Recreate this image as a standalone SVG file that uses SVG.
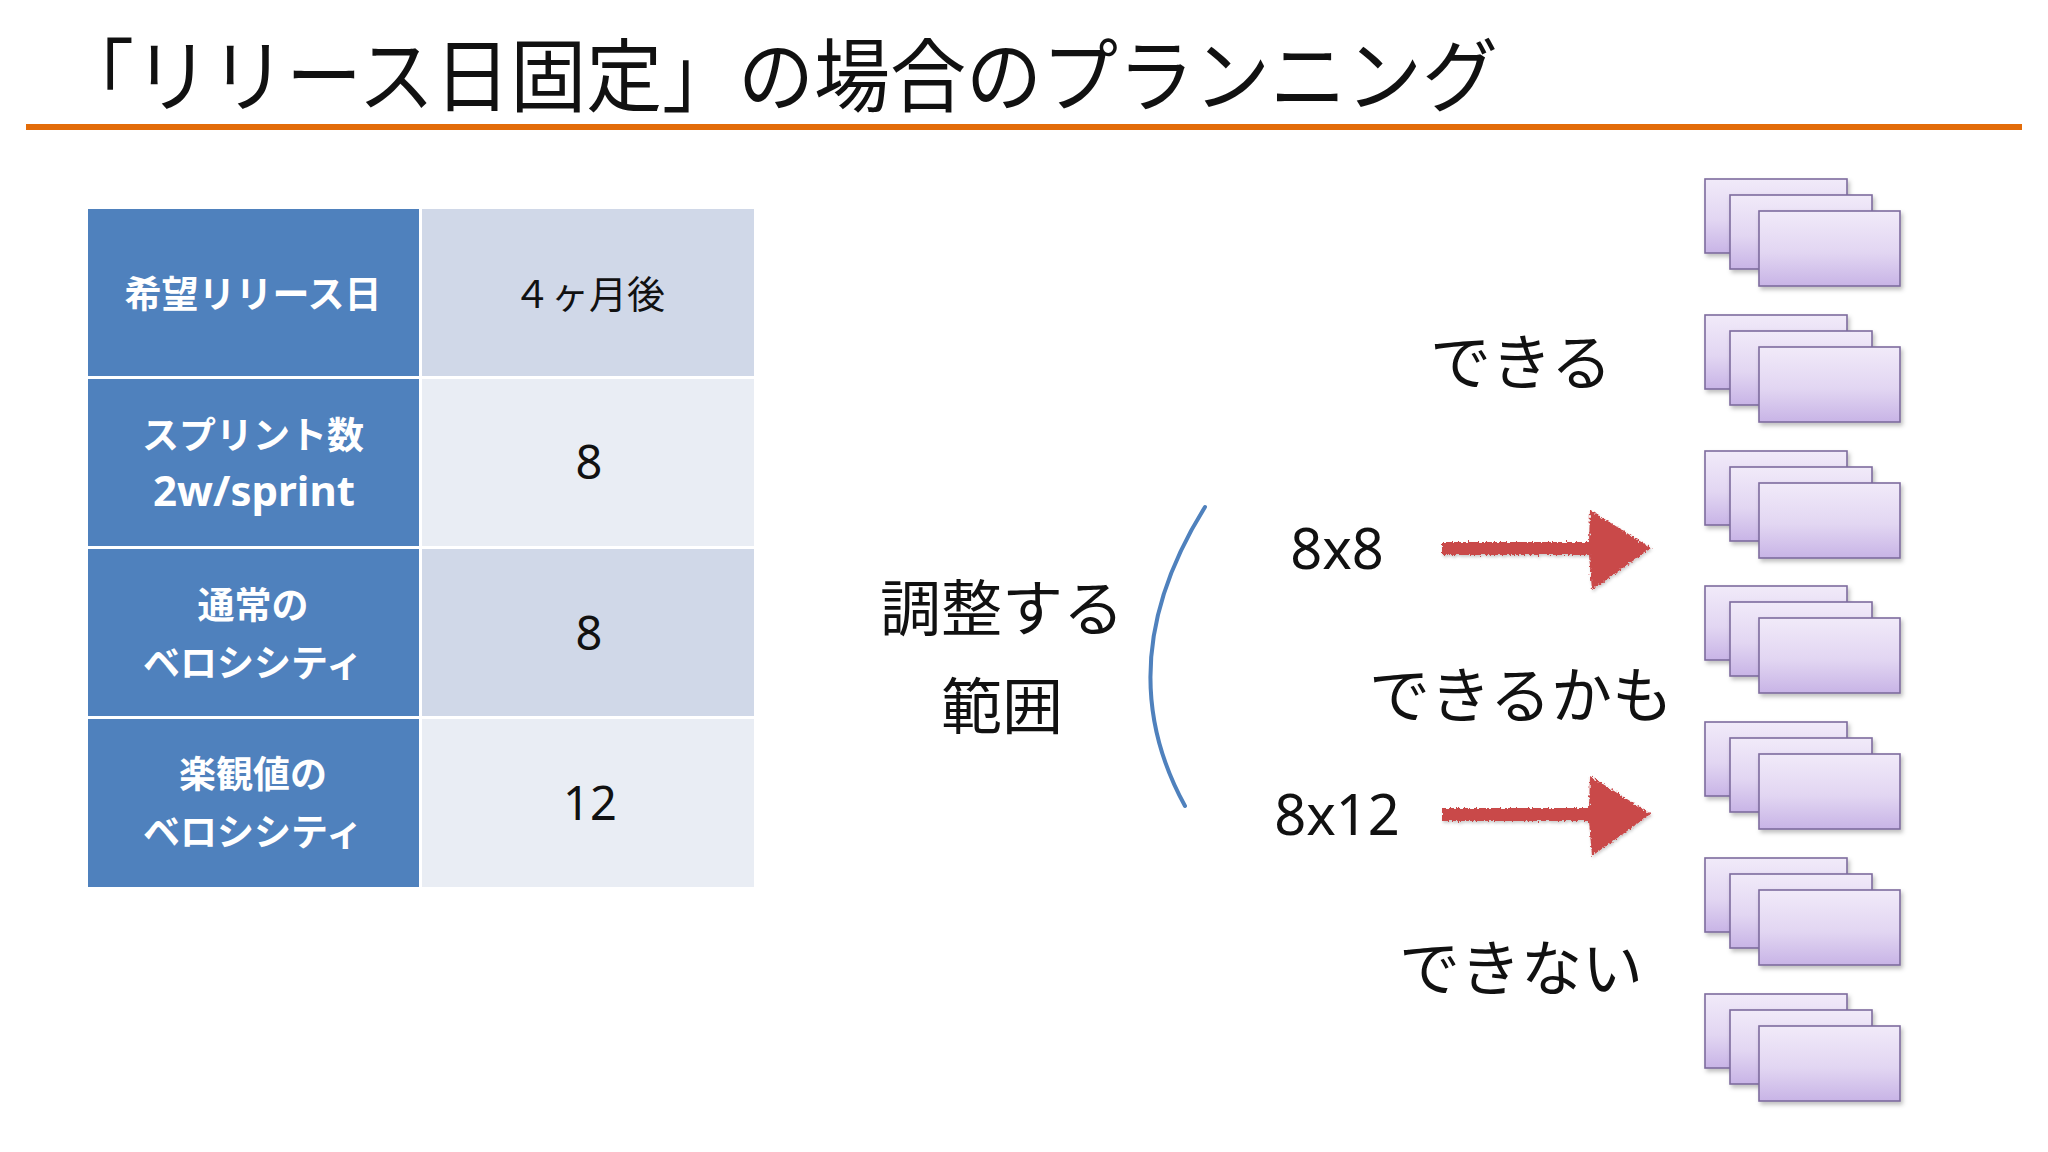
<svg xmlns="http://www.w3.org/2000/svg" width="2048" height="1152" viewBox="0 0 2048 1152">
<style>
  .jp { font-family: "Noto Sans CJK JP", "Noto Sans", sans-serif; }
  .hd { font-family: "Noto Sans CJK JP", "Noto Sans", sans-serif; font-weight: 700; font-size: 37px; fill: #FFFFFF; text-anchor: middle; }
  .hdl { font-family: "Noto Sans", "DejaVu Sans", sans-serif; font-weight: 700; font-size: 42px; fill: #FFFFFF; text-anchor: middle; }
  .val { font-family: "Noto Sans CJK JP", "Noto Sans", sans-serif; font-weight: 400; font-size: 38px; fill: #111111; text-anchor: middle; }
  .dig { font-family: "Noto Sans", "DejaVu Sans", sans-serif; font-weight: 400; font-size: 47px; fill: #111111; text-anchor: middle; }
  .big { font-family: "Noto Sans CJK JP", "Noto Sans", sans-serif; font-weight: 400; font-size: 61px; fill: #111111; text-anchor: middle; }
  .num { font-family: "Noto Sans", "DejaVu Sans", sans-serif; font-weight: 400; font-size: 56px; fill: #111111; text-anchor: middle; }
  .hcell { fill: #4F81BD; }
  .dark { fill: #D0D8E8; }
  .light { fill: #E9EDF4; }
  .card { fill: url(#cardGrad); stroke: #7E6C9E; stroke-width: 1.6; filter: url(#cardShadow); }
  .arrow { fill: #C9484A; filter: url(#rough); }
</style>
<defs>
  <linearGradient id="cardGrad" x1="0" y1="0" x2="0" y2="1">
    <stop offset="0" stop-color="#F1EAF9"/>
    <stop offset="0.55" stop-color="#E2D6F2"/>
    <stop offset="1" stop-color="#C8B4E6"/>
  </linearGradient>
  <filter id="cardShadow" x="-10%" y="-10%" width="130%" height="140%">
    <feDropShadow dx="2" dy="3" stdDeviation="2" flood-color="#000000" flood-opacity="0.25"/>
  </filter>
  <filter id="rough" x="-10%" y="-30%" width="120%" height="160%">
    <feTurbulence type="fractalNoise" baseFrequency="0.5" numOctaves="2" seed="3" result="noise"/>
    <feDisplacementMap in="SourceGraphic" in2="noise" scale="6" xChannelSelector="R" yChannelSelector="G" result="disp"/>
    <feDropShadow dx="1" dy="2" stdDeviation="1.5" flood-color="#000000" flood-opacity="0.2"/>
  </filter>
  <g id="stack">
    <rect class="card" x="0" y="0" width="142" height="74"/>
    <rect class="card" x="25" y="16" width="142" height="74"/>
    <rect class="card" x="54" y="32" width="141" height="75"/>
  </g>
</defs>

<rect x="0" y="0" width="2048" height="1152" fill="#FFFFFF"/>

<g id="title">
  <text class="jp" x="58" y="105" font-size="80" fill="#111111" textLength="1440" lengthAdjust="spacingAndGlyphs">「リリース日固定」の場合のプランニング</text>
  <rect x="26" y="124" width="1996" height="6" fill="#E36C09"/>
</g>

<g id="table">
  <g id="row1">
    <rect class="hcell" x="88" y="209" width="331" height="167"/>
    <rect class="dark" x="422" y="209" width="332" height="167"/>
    <text class="hd" x="253" y="308">希望リリース日</text>
    <text class="val" x="589" y="308">４ヶ月後</text>
  </g>
  <g id="row2">
    <rect class="hcell" x="88" y="379" width="331" height="167"/>
    <rect class="light" x="422" y="379" width="332" height="167"/>
    <text class="hd" x="253" y="449">スプリント数</text>
    <text class="hdl" x="254" y="506">2w/sprint</text>
    <text class="dig" x="589" y="479">8</text>
  </g>
  <g id="row3">
    <rect class="hcell" x="88" y="549" width="331" height="167"/>
    <rect class="dark" x="422" y="549" width="332" height="167"/>
    <text class="hd" x="253" y="619">通常の</text>
    <text class="hd" x="253" y="677">ベロシシティ</text>
    <text class="dig" x="589" y="650">8</text>
  </g>
  <g id="row4">
    <rect class="hcell" x="88" y="719" width="331" height="168"/>
    <rect class="light" x="422" y="719" width="332" height="168"/>
    <text class="hd" x="253" y="788">楽観値の</text>
    <text class="hd" x="253" y="846">ベロシシティ</text>
    <text class="dig" x="590" y="820">12</text>
  </g>
</g>

<g id="range-label">
  <text class="big" x="1002" y="631" font-size="62">調整する</text>
  <text class="big" x="1002" y="729" font-size="62">範囲</text>
</g>

<g id="bracket">
  <path d="M1205,507 Q1107,664 1185,806" fill="none" stroke="#4F81BD" stroke-width="4" stroke-linecap="round"/>
</g>

<g id="label-8x8"><text class="num" x="1337" y="569">8x8</text></g>
<g id="label-8x12"><text class="num" x="1337" y="835">8x12</text></g>

<g id="outcome-dekiru"><text class="big" x="1521" y="385">できる</text></g>
<g id="outcome-dekirukamo"><text class="big" x="1521" y="718">できるかも</text></g>
<g id="outcome-dekinai"><text class="big" x="1521" y="991">できない</text></g>

<g id="stacks">
  <use id="stack1" href="#stack" x="1705" y="179"/>
  <use id="stack2" href="#stack" x="1705" y="315"/>
  <use id="stack3" href="#stack" x="1705" y="451"/>
  <use id="stack4" href="#stack" x="1705" y="586"/>
  <use id="stack5" href="#stack" x="1705" y="722"/>
  <use id="stack6" href="#stack" x="1705" y="858"/>
  <use id="stack7" href="#stack" x="1705" y="994"/>
</g>

<g id="connectors">
  <path class="arrow" d="M1442,542 L1589,542 L1590,510 L1651,548 L1592,590 L1589,555 L1442,555 Z"/>
  <path class="arrow" d="M1442,808 L1589,808 L1590,776 L1651,814 L1592,856 L1589,821 L1442,821 Z"/>
</g>
</svg>
